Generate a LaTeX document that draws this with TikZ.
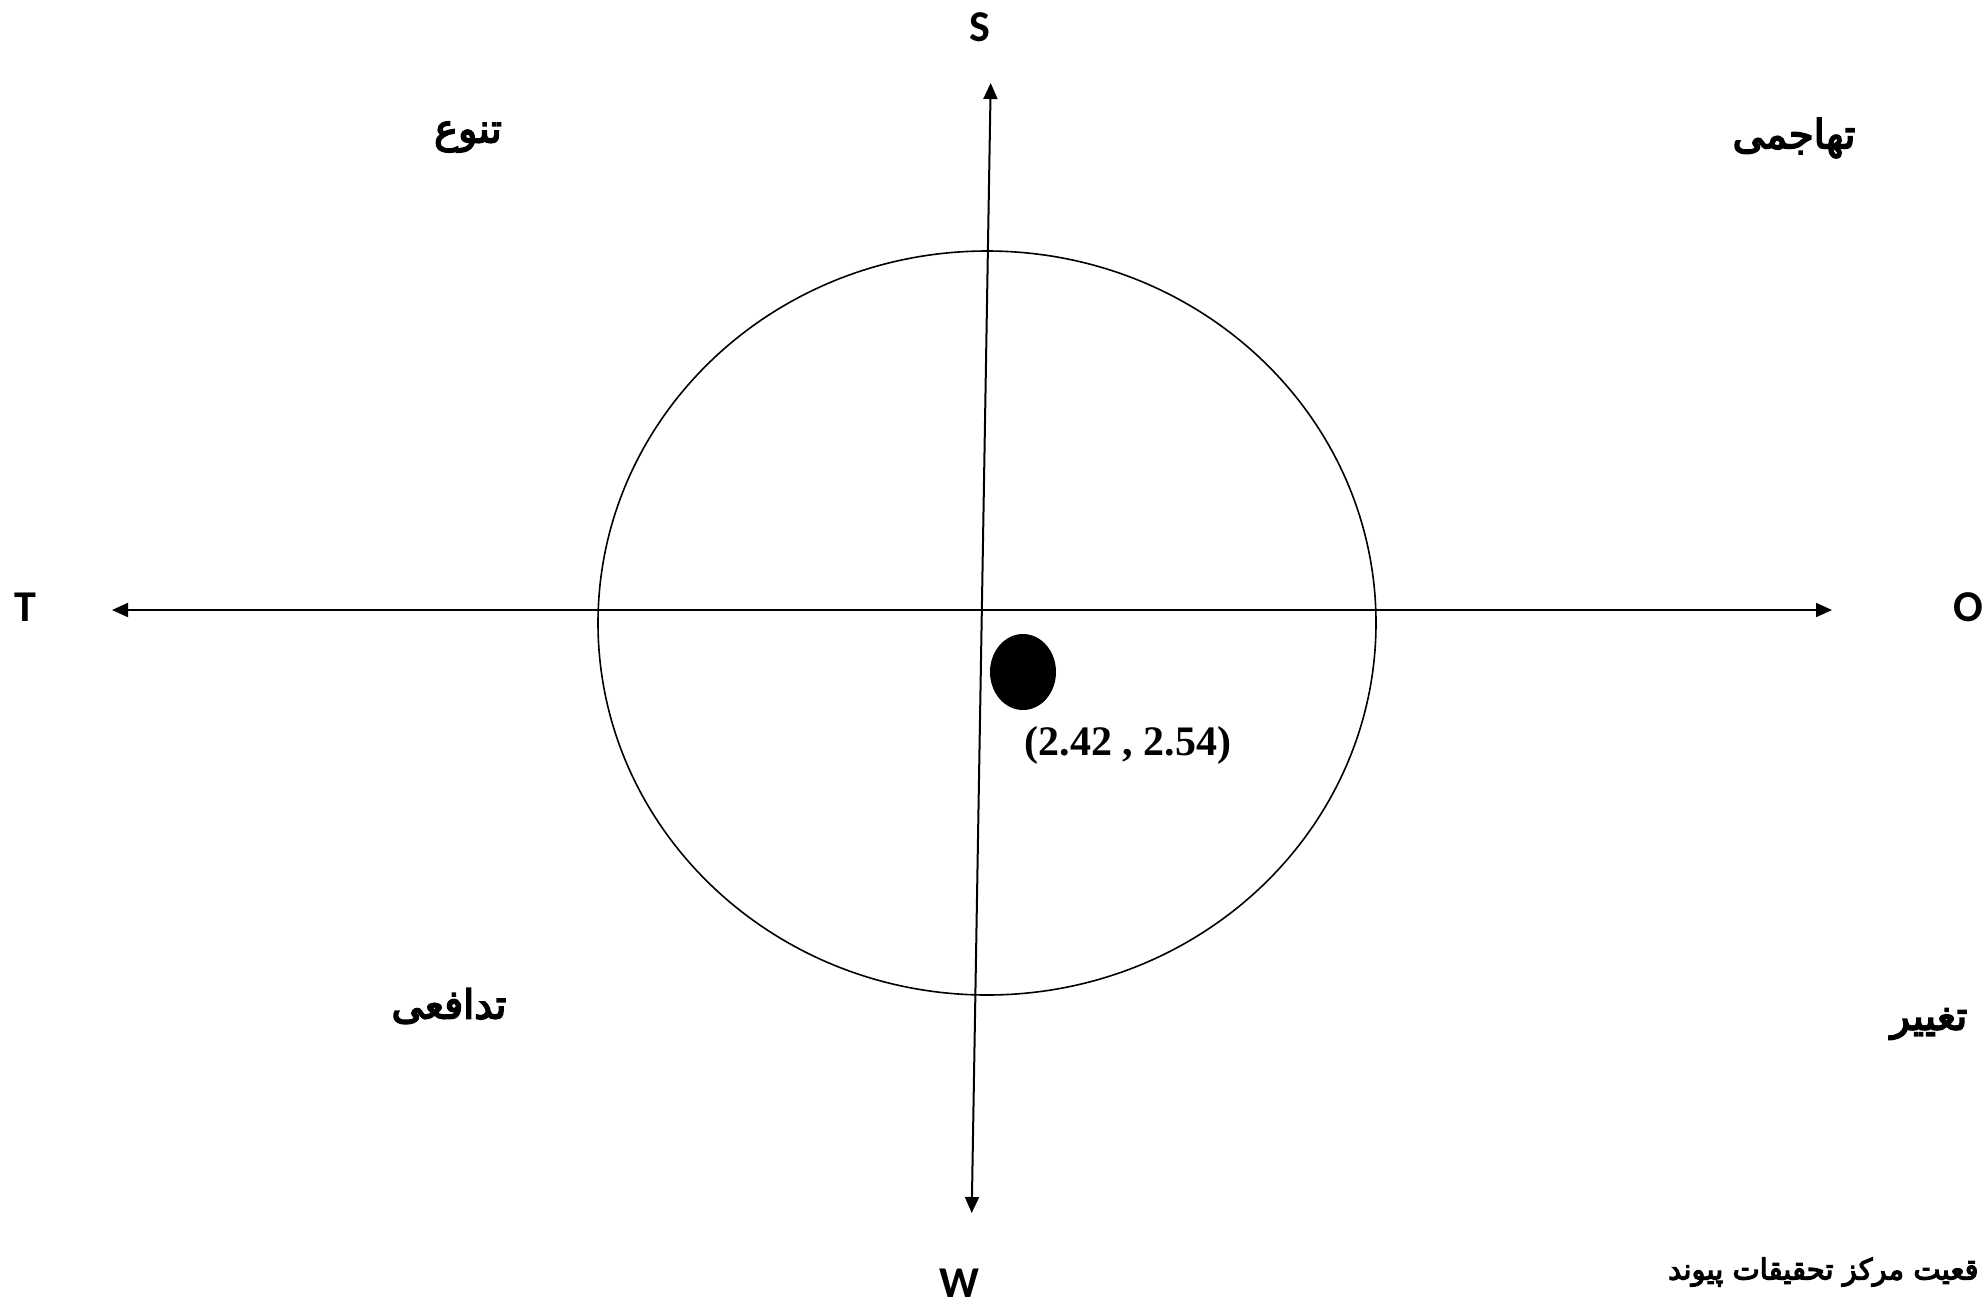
\documentclass[tikz,border=0pt]{standalone}
\usepackage{fontspec}
\setmainfont{Liberation Serif}
\newfontfamily\latinsans{Carlito}
\newfontfamily\arabicfont[Script=Arabic,FakeBold=4]{DejaVu Sans}
\TeXXeTstate=1
\usetikzlibrary{arrows.meta}
\begin{document}
\begin{tikzpicture}[x=1pt,y=-1pt,
  axis/.style={line width=2pt,{Triangle[length=16pt,width=14pt]}-{Triangle[length=16pt,width=14pt]}},
  axlabel/.style={font=\latinsans\bfseries\fontsize{44}{50}\selectfont,inner sep=0pt},
  fa/.style={font=\arabicfont\fontsize{40}{46}\selectfont,inner sep=0pt}]
\useasboundingbox (0,0) rectangle (1986,1307);
\fill[white] (0,0) rectangle (1986,1307);
\draw[line width=1.6pt] (987,623) ellipse [x radius=389, y radius=372];
\coordinate (top) at (990.7,83);
\coordinate (bot) at (971.7,1213);
\coordinate (left) at (112,610);
\coordinate (right) at (1832,610);
\draw[axis] (bot) -- (top);
\draw[axis] (left) -- (right);
\fill (1023,672) ellipse [x radius=33, y radius=38];
\node[font=\bfseries\fontsize{42}{48}\selectfont,inner sep=0pt] (pt) at (1128,745) {(2.42 , 2.54)};
\node[axlabel] (S) at (980,27) {S};
\node[axlabel] (W) at (959,1283) {W};
\node[axlabel] (T) at (25,607) {T};
\node[axlabel] (O) at (1968,607) {O};
\node[fa] (q1) at (468,137) {\beginR تنوع\endR};
\node[fa] (q2) at (1794,138) {\beginR تهاجمی\endR};
\node[fa] (q3) at (449,1006) {\beginR تدافعی\endR};
\node[fa] (q4) at (1929,1024) {\beginR تغییر\endR};
\node[fa,anchor=west,font=\arabicfont\fontsize{29}{34}\selectfont] (cap) at (1668,1272) {\beginR قعیت مرکز تحقیقات پیوند\endR};
\end{tikzpicture}
\end{document}
